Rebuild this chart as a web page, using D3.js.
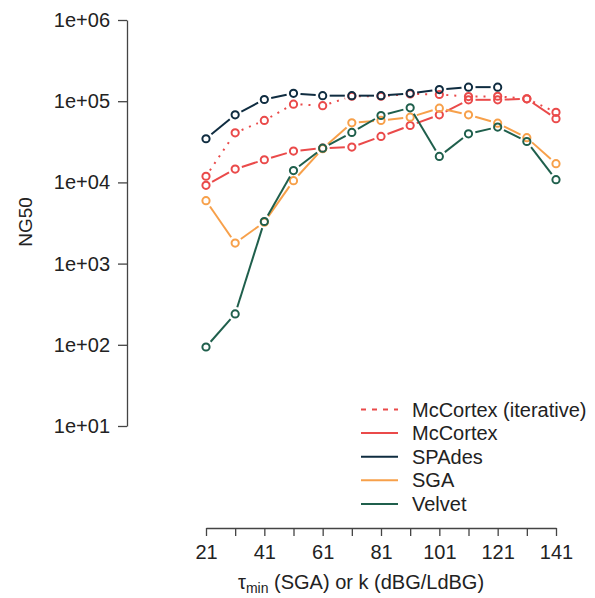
<!DOCTYPE html>
<html>
  <head>
    <script src="https://d3js.org/d3.v7.min.js"></script>
    <style>
      body { margin: 0; background: #fff; }
      text { font-family: "Liberation Sans", Arial, sans-serif; fill: #222; }
    </style>
  </head>
  <body>
    <script>

    // k / tau_min values on the x axis
    var kValues = [21, 31, 41, 51, 61, 71, 81, 91, 101, 111, 121, 131, 141];

    // NG50 for each assembler (null = not run)
    var mccortexIter = [11900, 40800, 58000, 92000, 88000, 115000, 115000, 123000, 121000, 114000, 115000, 107000, 73000];
    var mccortex     = [9200, 14600, 19000, 24300, 26400, 27200, 36800, 50200, 68000, 104000, 104000, 107000, 61000];
    var spades       = [34500, 68000, 105000, 125000, 117000, 117000, 117000, 125000, 139000, 149000, 149000, null, null];
    var sga          = [5950, 1790, 3240, 10500, 26000, 54200, 58000, 63600, 82000, 68000, 53600, 35500, 17000];
    var velvet       = [94, 240, 3300, 14000, 26400, 41200, 66700, 82800, 20900, 39700, 48000, 31900, 10800];

    var yTicks = [1e1, 1e2, 1e3, 1e4, 1e5, 1e6];
    var yTickLabels = ["1e+01", "1e+02", "1e+03", "1e+04", "1e+05", "1e+06"];
    var xTickLabels = [21, 41, 61, 81, 101, 121, 141];

    var seriesNames  = ["McCortex (iterative)", "McCortex", "SPAdes", "SGA", "Velvet"];
    var seriesValues = [mccortexIter, mccortex, spades, sga, velvet];
    var seriesColors = ["#ea4a4a", "#ea4a4a", "#0f2c40", "#f7a04a", "#1f5f4c"];

    var w = 595, h = 598;

    var x = d3.scaleLinear().domain([21, 141]).range([206, 556]);
    var y = d3.scaleLog().domain([10, 1e6]).range([426, 20]);

    var svg = d3.select("body").append("svg")
      .attr("width", w)
      .attr("height", h);

    // y axis
    var yAxis = svg.append("g")
      .attr("transform", "translate(127,0)")
      .call(d3.axisLeft(y).tickValues(yTicks)
        .tickFormat(function(d, i) { return yTickLabels[i]; })
        .tickSize(9).tickSizeOuter(0).tickPadding(8));
    yAxis.select(".domain").attr("stroke", "#444").attr("stroke-width", 1.3);
    yAxis.selectAll(".tick line").attr("stroke", "#444").attr("stroke-width", 1.3);
    yAxis.selectAll(".tick text").attr("font-size", "20px")
      .attr("font-family", "Liberation Sans, Arial, sans-serif").attr("fill", "#222");

    // x axis
    var xAxis = svg.append("g")
      .attr("transform", "translate(0,528)")
      .call(d3.axisBottom(x).tickValues(kValues)
        .tickFormat(function(d) { return xTickLabels.indexOf(d) >= 0 ? d : ""; })
        .tickSize(8).tickSizeOuter(0).tickPadding(9));
    xAxis.select(".domain").attr("stroke", "#444").attr("stroke-width", 1.3);
    xAxis.selectAll(".tick line").attr("stroke", "#444").attr("stroke-width", 1.3);
    xAxis.selectAll(".tick text").attr("font-size", "20px")
      .attr("font-family", "Liberation Sans, Arial, sans-serif").attr("fill", "#222");

    // axis titles
    svg.append("text")
      .attr("transform", "translate(32,222) rotate(-90)")
      .attr("text-anchor", "middle")
      .attr("font-size", "19px")
      .text("NG50");

    var xt = svg.append("text")
      .attr("x", 238).attr("y", 589)
      .attr("font-size", "20px");
    xt.append("tspan").text("\u03c4");
    xt.append("tspan").attr("font-size", "14px").attr("dy", 4).text("min");
    xt.append("tspan").attr("dy", -4).text(" (SGA) or k (dBG/LdBG)");

    // lines with gaps around the points (like R type="b")
    var gap = 7;
    var plot = svg.append("g");

    seriesValues.forEach(function(vals, s) {
      var pts = [];
      vals.forEach(function(v, i) {
        if (v != null) pts.push([x(kValues[i]), y(v)]);
      });
      var segs = [];
      for (var i = 0; i < pts.length - 1; i++) {
        var a = pts[i], b = pts[i + 1];
        var dx = b[0] - a[0], dy = b[1] - a[1];
        var len = Math.sqrt(dx * dx + dy * dy);
        if (len <= 2 * gap) continue;
        var ux = dx / len, uy = dy / len;
        segs.push([a[0] + ux * gap, a[1] + uy * gap, b[0] - ux * gap, b[1] - uy * gap]);
      }
      plot.append("g").selectAll("line")
        .data(segs)
        .enter()
        .append("line")
        .attr("x1", function(d) { return d[0]; })
        .attr("y1", function(d) { return d[1]; })
        .attr("x2", function(d) { return d[2]; })
        .attr("y2", function(d) { return d[3]; })
        .attr("stroke", seriesColors[s])
        .attr("stroke-width", 2)
        .attr("stroke-dasharray", s === 0 ? "2,6" : null);

      plot.append("g").selectAll("circle")
        .data(pts)
        .enter()
        .append("circle")
        .attr("cx", function(d) { return d[0]; })
        .attr("cy", function(d) { return d[1]; })
        .attr("r", 3.6)
        .attr("fill", "none")
        .attr("stroke", seriesColors[s])
        .attr("stroke-width", 2);
    });

    // legend
    var legend = svg.append("g").selectAll("g")
      .data(seriesNames)
      .enter()
      .append("g")
      .attr("transform", function(d, i) { return "translate(361," + (409.5 + i * 23.6) + ")"; });

    legend.append("line")
      .attr("x1", 0).attr("x2", 37)
      .attr("stroke", function(d, i) { return seriesColors[i]; })
      .attr("stroke-width", 2)
      .attr("stroke-dasharray", function(d, i) { return i === 0 ? "5,6" : null; });

    legend.append("text")
      .attr("x", 51).attr("y", 7)
      .attr("font-size", "20px")
      .text(function(d) { return d; });

    </script>
  </body>
</html>
